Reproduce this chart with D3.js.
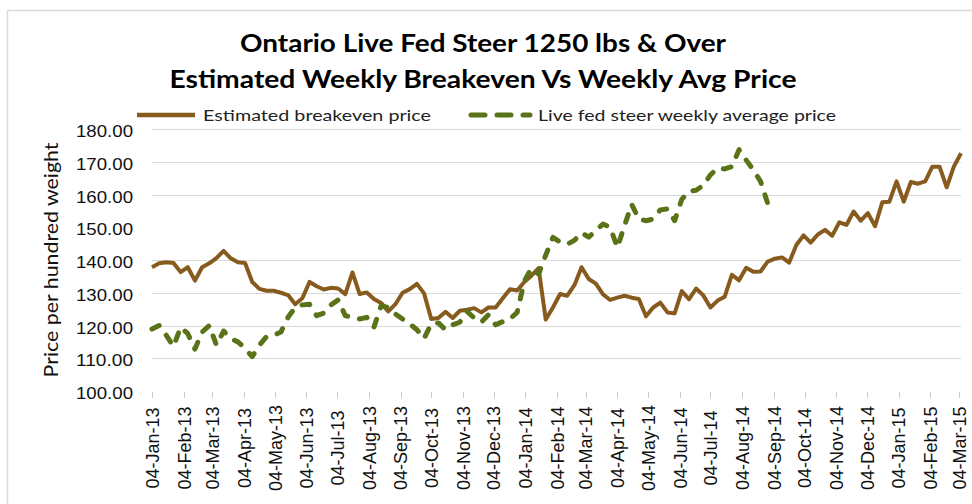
<!DOCTYPE html>
<html lang="en">
<head>
    <meta charset="UTF-8">
    <title>Ontario Live Fed Steer - Breakeven vs Weekly Avg Price</title>
    <style>
        body {
            margin: 0;
            background: #fff;
        }
        svg {
            display: block;
            font-family: Lato, 'Open Sans', sans-serif;
        }
        .grid line {
            stroke: #d9d9d9;
            shape-rendering: crispEdges;
        }
        .x-axis path,
        .y-axis path,
        .y-axis line {
            display: none;
        }
        .x-axis line {
            stroke: #c8c8c8;
            shape-rendering: crispEdges;
        }
        .x-axis text {
            font-family: 'Liberation Sans', Arial, sans-serif;
            font-size: 18px;
            fill: #111;
        }
        .y-axis text {
            font-size: 17px;
            fill: #111;
        }
        .title {
            font-weight: bold;
            font-size: 24px;
            fill: #000;
        }
        .legend text {
            font-size: 16px;
            fill: #222;
        }
    </style>
</head>
<body>
    <svg id="chart" width="972" height="504"></svg>

    <script src="https://d3js.org/d3.v7.min.js"></script>
    <script>
        // weekly series, first week = 04-Jan-2013
        const startDate = new Date(2013, 0, 4);

        const breakeven = [
            137.8, 139.0, 139.3, 139.1, 136.3, 137.8, 133.7, 137.8, 139.0, 140.6,
            142.8, 140.5, 139.3, 139.1, 133.3, 131.2, 130.6, 130.6, 130.0, 129.3,
            126.5, 128.3, 133.3, 132.0, 131.0, 131.5, 131.3, 129.6, 136.2, 129.6,
            130.1, 128.1, 126.9, 124.3, 126.5, 130.0, 131.1, 132.7, 129.8, 122.0,
            122.3, 124.2, 122.3, 124.5, 124.8, 125.3, 124.0, 125.5, 125.5, 128.3,
            131.1, 130.7, 133.3, 135.2, 137.5, 121.8, 125.5, 129.6, 129.1, 132.3,
            137.8, 134.2, 132.8, 129.5, 127.8, 128.5, 129.1, 128.5, 128.1, 122.8,
            125.5, 127.0, 124.0, 123.7, 130.5, 128.0, 131.3, 129.2, 125.5, 127.6,
            128.8, 135.5, 133.8, 137.6, 136.4, 136.5, 139.5, 140.4, 140.8, 139.2,
            144.6, 147.5, 145.3, 147.8, 149.2, 147.4, 151.5, 150.7, 154.8, 152.0,
            154.3, 150.3, 157.6, 157.8, 164.0, 157.8, 163.8, 163.3, 164.0, 168.5,
            168.5, 162.2, 168.5, 172.6
        ];

        const steerPrice = [
            118.9, 120.0, 117.0, 113.6, 119.5, 117.5, 112.8, 118.0, 120.0, 114.0,
            118.3, 116.0, 115.0, 113.0, 110.5, 114.0, 116.6, 117.0, 118.0, 122.5,
            125.5, 126.3, 126.5, 123.0, 123.8, 126.3, 127.8, 123.0, 122.5, 122.0,
            122.5, 119.5, 126.0, 125.5, 123.5, 122.0, 120.5, 118.7, 116.0, 120.5,
            120.8, 118.7, 120.2, 121.0, 124.3, 122.3, 121.0, 123.3, 120.2, 121.2,
            122.0, 124.0, 133.5, 137.5, 135.7, 141.5, 146.9, 145.5, 144.8, 146.0,
            148.3, 147.0, 149.0, 151.0, 150.0, 143.8, 150.5, 157.0, 152.5, 152.0,
            152.5, 155.3, 155.6, 152.0, 158.5, 161.0, 161.3, 162.8, 166.0, 168.0,
            167.8, 168.5, 173.7, 170.5, 167.5, 164.0, 157.3, 157.8
        ];

        const tickLabels = [
            '04-Jan-13', '04-Feb-13', '04-Mar-13', '04-Apr-13', '04-May-13', '04-Jun-13',
            '04-Jul-13', '04-Aug-13', '04-Sep-13', '04-Oct-13', '04-Nov-13', '04-Dec-13',
            '04-Jan-14', '04-Feb-14', '04-Mar-14', '04-Apr-14', '04-May-14', '04-Jun-14',
            '04-Jul-14', '04-Aug-14', '04-Sep-14', '04-Oct-14', '04-Nov-14', '04-Dec-14',
            '04-Jan-15', '04-Feb-15', '04-Mar-15'
        ];

        const yTicks = [100, 110, 120, 130, 140, 150, 160, 170, 180];
        const gridValues = [110, 120, 130, 140, 160, 170, 180];

        const titleLines = [
            'Ontario Live Fed Steer 1250 lbs & Over',
            'Estimated Weekly Breakeven Vs Weekly Avg Price'
        ];
        const seriesNames = ['Estimated breakeven price', 'Live fed steer weekly average price'];

        const width = 972, height = 504;
        const margin = { top: 129, right: 11, bottom: 113, left: 152 };
        const brown = '#875a1e';
        const green = '#5a7319';

        const svg = d3.select('#chart');
        const parseTick = d3.timeParse('%d-%b-%y');
        const weekDate = i => d3.timeDay.offset(startDate, 7 * i);

        const x = d3.scaleTime()
            .domain([startDate, weekDate(breakeven.length - 1)])
            .range([margin.left, width - margin.right]);
        const y = d3.scaleLinear()
            .domain([100, 180])
            .range([height - margin.bottom, margin.top]);

        // chart frame
        svg.append('rect')
            .attr('x', 7.5).attr('y', 10.5)
            .attr('width', 1000).attr('height', 600)
            .attr('fill', 'none')
            .attr('stroke', '#d9d9d9')
            .attr('stroke-width', 1.5);

        // title
        svg.selectAll('.title')
            .data(titleLines)
            .enter().append('text')
            .attr('class', 'title')
            .attr('x', 483)
            .attr('y', (d, i) => 52 + i * 36)
            .attr('text-anchor', 'middle')
            .attr('textLength', (d, i) => i === 0 ? 486 : 627)
            .attr('lengthAdjust', 'spacingAndGlyphs')
            .text(d => d);

        // legend
        const legend = svg.append('g').attr('class', 'legend');
        legend.append('line')
            .attr('x1', 137).attr('x2', 195).attr('y1', 115).attr('y2', 115)
            .attr('stroke', brown).attr('stroke-width', 4.5);
        legend.append('text')
            .attr('x', 203).attr('y', 121)
            .attr('textLength', 228).attr('lengthAdjust', 'spacingAndGlyphs')
            .text(seriesNames[0]);
        legend.append('line')
            .attr('x1', 471).attr('x2', 530).attr('y1', 115).attr('y2', 115)
            .attr('stroke', green).attr('stroke-width', 5)
            .attr('stroke-linecap', 'round')
            .attr('stroke-dasharray', '14,12');
        legend.append('text')
            .attr('x', 538).attr('y', 121)
            .attr('textLength', 298).attr('lengthAdjust', 'spacingAndGlyphs')
            .text(seriesNames[1]);

        // gridlines
        svg.append('g').attr('class', 'grid')
            .selectAll('line')
            .data(gridValues)
            .enter().append('line')
            .attr('x1', margin.left).attr('x2', width - margin.right)
            .attr('y1', d => Math.round(y(d)) + 0.5)
            .attr('y2', d => Math.round(y(d)) + 0.5);

        // axes
        const yAxis = d3.axisLeft(y)
            .tickValues(yTicks)
            .tickSize(0)
            .tickPadding(19)
            .tickFormat(d3.format('.2f'));
        svg.append('g').attr('class', 'y-axis')
            .attr('transform', `translate(${margin.left},0)`)
            .call(yAxis)
            .selectAll('text')
            .attr('dy', '0.45em')
            .attr('textLength', 57)
            .attr('lengthAdjust', 'spacingAndGlyphs');

        const xAxis = d3.axisBottom(x)
            .tickValues(tickLabels.map(parseTick))
            .tickSize(6)
            .tickFormat(d3.timeFormat('%d-%b-%y'));
        svg.append('g').attr('class', 'x-axis')
            .attr('transform', `translate(0,${y(100) + 1})`)
            .call(xAxis)
            .selectAll('text')
            .attr('transform', 'rotate(-90)')
            .attr('text-anchor', 'middle')
            .attr('x', -56)
            .attr('y', 0)
            .attr('dy', '0.35em');

        svg.append('text')
            .attr('transform', 'translate(58,260) rotate(-90)')
            .attr('text-anchor', 'middle')
            .attr('font-size', 19)
            .attr('fill', '#111')
            .attr('textLength', 235)
            .attr('lengthAdjust', 'spacingAndGlyphs')
            .text('Price per hundred weight');

        // series
        const line = d3.line()
            .x((d, i) => x(weekDate(i)))
            .y(d => y(d));

        svg.append('path')
            .datum(breakeven)
            .attr('fill', 'none')
            .attr('stroke', brown)
            .attr('stroke-width', 4)
            .attr('stroke-linejoin', 'round')
            .attr('d', line);

        svg.append('path')
            .datum(steerPrice)
            .attr('fill', 'none')
            .attr('stroke', green)
            .attr('stroke-width', 5)
            .attr('stroke-linecap', 'round')
            .attr('stroke-linejoin', 'round')
            .attr('stroke-dasharray', '8,12')
            .attr('d', line);
    </script>
</body>
</html>
